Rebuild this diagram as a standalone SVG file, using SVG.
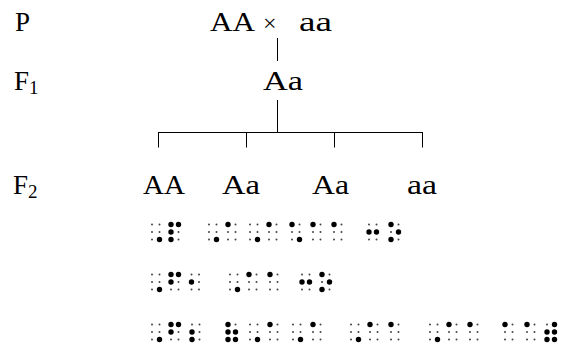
<svg xmlns="http://www.w3.org/2000/svg" xmlns:xlink="http://www.w3.org/1999/xlink" width="561" height="347" viewBox="0 0 561 347">
<style>
  .t { font-family: "Liberation Serif", "DejaVu Serif", serif; font-size: 27px; fill: #000; }
  .sub { font-family: "Liberation Serif", "DejaVu Serif", serif; font-size: 19px; fill: #000; }
  .x { font-family: "Liberation Serif", "DejaVu Serif", serif; font-size: 24px; fill: #000; }
  .ln { stroke: #000; stroke-width: 1; fill: none; }
  .b { fill: #000; }
  .s { fill: #444; }
</style>
<defs>
  <circle id="B" r="2.7" class="b"/>
  <circle id="S" r="1" class="s"/>
  <!-- braille cells: dots 1,2,3 left column; 4,5,6 right column -->
  <g id="cap"><use href="#S" x="0" y="0"/><use href="#S" x="0" y="7.5"/><use href="#S" x="0" y="15"/><use href="#S" x="7.5" y="0"/><use href="#S" x="7.5" y="7.5"/><use href="#B" x="7.5" y="15"/></g>
  <g id="c_a"><use href="#B" x="0" y="0"/><use href="#S" x="0" y="7.5"/><use href="#S" x="0" y="15"/><use href="#S" x="7.5" y="0"/><use href="#S" x="7.5" y="7.5"/><use href="#S" x="7.5" y="15"/></g>
  <g id="c_p"><use href="#B" x="0" y="0"/><use href="#B" x="0" y="7.5"/><use href="#B" x="0" y="15"/><use href="#B" x="7.5" y="0"/><use href="#S" x="7.5" y="7.5"/><use href="#S" x="7.5" y="15"/></g>
  <g id="c_f"><use href="#B" x="0" y="0"/><use href="#B" x="0" y="7.5"/><use href="#S" x="0" y="15"/><use href="#B" x="7.5" y="0"/><use href="#S" x="7.5" y="7.5"/><use href="#S" x="7.5" y="15"/></g>
  <g id="c_16"><use href="#B" x="0" y="0"/><use href="#S" x="0" y="7.5"/><use href="#S" x="0" y="15"/><use href="#S" x="7.5" y="0"/><use href="#S" x="7.5" y="7.5"/><use href="#B" x="7.5" y="15"/></g>
  <g id="c_25"><use href="#S" x="0" y="0"/><use href="#B" x="0" y="7.5"/><use href="#S" x="0" y="15"/><use href="#S" x="7.5" y="0"/><use href="#B" x="7.5" y="7.5"/><use href="#S" x="7.5" y="15"/></g>
  <g id="c_o"><use href="#B" x="0" y="0"/><use href="#S" x="0" y="7.5"/><use href="#B" x="0" y="15"/><use href="#S" x="7.5" y="0"/><use href="#B" x="7.5" y="7.5"/><use href="#S" x="7.5" y="15"/></g>
  <g id="c_2"><use href="#S" x="0" y="0"/><use href="#B" x="0" y="7.5"/><use href="#S" x="0" y="15"/><use href="#S" x="7.5" y="0"/><use href="#S" x="7.5" y="7.5"/><use href="#S" x="7.5" y="15"/></g>
  <g id="c_23"><use href="#S" x="0" y="0"/><use href="#B" x="0" y="7.5"/><use href="#B" x="0" y="15"/><use href="#S" x="7.5" y="0"/><use href="#S" x="7.5" y="7.5"/><use href="#S" x="7.5" y="15"/></g>
  <g id="c_op"><use href="#B" x="0" y="0"/><use href="#B" x="0" y="7.5"/><use href="#B" x="0" y="15"/><use href="#S" x="7.5" y="0"/><use href="#B" x="7.5" y="7.5"/><use href="#B" x="7.5" y="15"/></g>
  <g id="c_cl"><use href="#S" x="0" y="0"/><use href="#B" x="0" y="7.5"/><use href="#B" x="0" y="15"/><use href="#B" x="7.5" y="0"/><use href="#B" x="7.5" y="7.5"/><use href="#B" x="7.5" y="15"/></g>
</defs>

<g id="connectors">
  <line class="ln" x1="277.5" y1="38" x2="277.5" y2="61"/>
  <line class="ln" x1="277.5" y1="100" x2="277.5" y2="132.5"/>
  <line class="ln" x1="158" y1="132.5" x2="423" y2="132.5"/>
  <line class="ln" x1="158.5" y1="132.5" x2="158.5" y2="147.5"/>
  <line class="ln" x1="246.5" y1="132.5" x2="246.5" y2="147.5"/>
  <line class="ln" x1="334.5" y1="132.5" x2="334.5" y2="147.5"/>
  <line class="ln" x1="422.5" y1="132.5" x2="422.5" y2="147.5"/>
</g>

<g id="label-P"><text class="t" x="15" y="31">P</text></g>
<g id="parents">
  <text class="t" x="210" y="31" textLength="45" lengthAdjust="spacingAndGlyphs">AA</text>
  <text class="x" x="263" y="31">×</text>
  <text class="t" x="299" y="31" textLength="33" lengthAdjust="spacingAndGlyphs">aa</text>
</g>
<g id="label-F1"><text class="t" x="14" y="90">F</text><text class="sub" x="29" y="94">1</text></g>
<g id="f1-Aa"><text class="t" x="263" y="90" textLength="40" lengthAdjust="spacingAndGlyphs">Aa</text></g>
<g id="label-F2"><text class="t" x="13" y="194">F</text><text class="sub" x="28" y="198">2</text></g>
<g id="f2-AA"><text class="t" x="143" y="194" textLength="42" lengthAdjust="spacingAndGlyphs">AA</text></g>
<g id="f2-Aa-1"><text class="t" x="222" y="194" textLength="38" lengthAdjust="spacingAndGlyphs">Aa</text></g>
<g id="f2-Aa-2"><text class="t" x="312" y="194" textLength="37" lengthAdjust="spacingAndGlyphs">Aa</text></g>
<g id="f2-aa"><text class="t" x="407" y="194" textLength="30" lengthAdjust="spacingAndGlyphs">aa</text></g>

<g id="braille-row1">
  <use href="#cap" x="152" y="224.5"/><use href="#c_p" x="171" y="224.5"/>
  <use href="#cap" x="209" y="224.5"/><use href="#c_a" x="228" y="224.5"/><use href="#cap" x="250" y="224.5"/><use href="#c_a" x="269" y="224.5"/><use href="#c_16" x="292" y="224.5"/><use href="#c_a" x="313" y="224.5"/><use href="#c_a" x="334" y="224.5"/>
  <use href="#c_25" x="369" y="224.5"/><use href="#c_o" x="391" y="224.5"/>
</g>
<g id="braille-row2">
  <use href="#cap" x="152" y="274.5"/><use href="#c_f" x="171" y="274.5"/><use href="#c_2" x="191.5" y="274.5"/>
  <use href="#cap" x="230" y="274.5"/><use href="#c_a" x="249" y="274.5"/><use href="#c_a" x="270" y="274.5"/>
  <use href="#c_25" x="302" y="274.5"/><use href="#c_o" x="322" y="274.5"/>
</g>
<g id="braille-row3">
  <use href="#cap" x="152" y="324.5"/><use href="#c_f" x="171" y="324.5"/><use href="#c_23" x="192" y="324.5"/>
  <use href="#c_op" x="228" y="324.5"/><use href="#cap" x="250" y="324.5"/><use href="#c_a" x="270" y="324.5"/><use href="#cap" x="293" y="324.5"/><use href="#c_a" x="313" y="324.5"/>
  <use href="#cap" x="351" y="324.5"/><use href="#c_a" x="370" y="324.5"/><use href="#c_a" x="391" y="324.5"/>
  <use href="#cap" x="430" y="324.5"/><use href="#c_a" x="449" y="324.5"/><use href="#c_a" x="470" y="324.5"/>
  <use href="#c_a" x="505" y="324.5"/><use href="#c_a" x="527" y="324.5"/><use href="#c_cl" x="547" y="324.5"/>
</g>
</svg>
